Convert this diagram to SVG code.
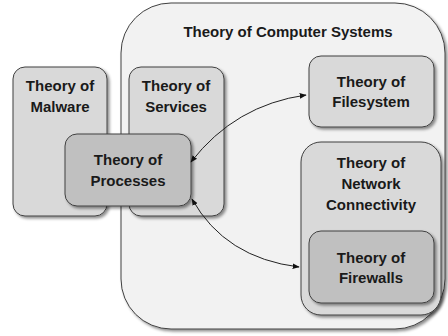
<svg xmlns="http://www.w3.org/2000/svg" width="448" height="336" viewBox="0 0 448 336">
<defs>
<filter id="sh" x="-20%" y="-20%" width="140%" height="140%">
<feDropShadow dx="2" dy="2" stdDeviation="1.5" flood-color="#000" flood-opacity="0.45"/>
</filter>
<marker id="ah" viewBox="0 0 10 10" refX="9" refY="5" markerWidth="7" markerHeight="7" orient="auto-start-reverse" markerUnits="userSpaceOnUse">
<path d="M0,1 L10,5 L0,9 z" fill="#111"/>
</marker>
</defs>
<style>
.box{stroke:#404040;stroke-width:1;filter:url(#sh)}
.c{fill:#f2f2f2}
.l{fill:#d9d9d9}
.d{fill:#c0c0c0}
text{font-family:"Liberation Sans",Arial,sans-serif;font-weight:bold;font-size:15px;fill:#1a1a1a;text-anchor:middle}
.conn{fill:none;stroke:#222;stroke-width:1;marker-start:url(#ah);marker-end:url(#ah)}
</style>
<rect width="448" height="336" fill="#fff"/>
<g id="computer-systems">
<rect class="box c" x="121" y="3" width="324" height="326" rx="50"/>
<text x="288" y="37">Theory of Computer Systems</text>
</g>
<g id="malware">
<rect class="box l" x="13" y="67" width="94" height="149" rx="12"/>
<text x="60" y="91">Theory of</text>
<text x="60" y="112">Malware</text>
</g>
<g id="services">
<rect class="box l" x="129" y="67" width="95" height="149" rx="12"/>
<text x="176" y="91">Theory of</text>
<text x="176" y="112">Services</text>
</g>
<g id="processes">
<rect class="box d" x="65" y="134" width="126" height="72" rx="12"/>
<text x="128" y="165">Theory of</text>
<text x="128" y="186">Processes</text>
</g>
<g id="filesystem">
<rect class="box l" x="309" y="56" width="125" height="71" rx="12"/>
<text x="371" y="87">Theory of</text>
<text x="371" y="107">Filesystem</text>
</g>
<g id="network">
<rect class="box l" x="301" y="142" width="140" height="173" rx="20"/>
<text x="371" y="168">Theory of</text>
<text x="371" y="189">Network</text>
<text x="371" y="210">Connectivity</text>
</g>
<g id="firewalls">
<rect class="box d" x="309" y="231" width="125" height="72" rx="12"/>
<text x="371" y="263">Theory of</text>
<text x="371" y="283">Firewalls</text>
</g>
<g id="connectors">
<path class="conn" d="M191,162 Q235,105 306,95"/>
<path class="conn" d="M192,199 Q225,258 299,267"/>
</g>
</svg>
